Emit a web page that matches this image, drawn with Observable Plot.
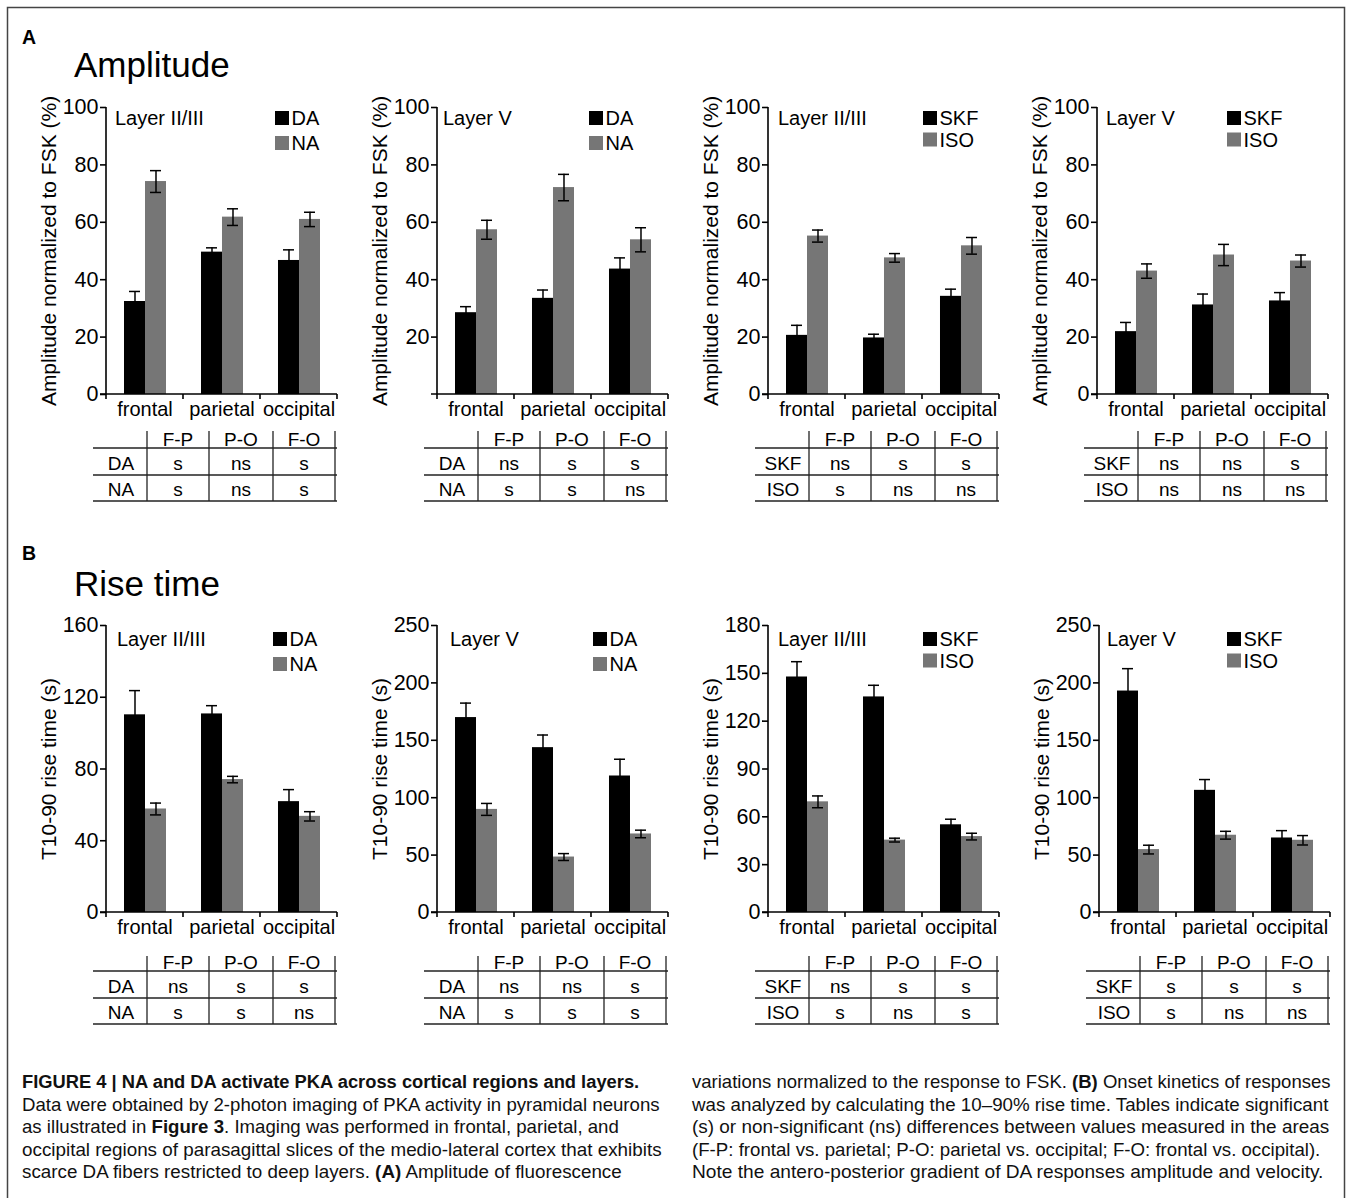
<!DOCTYPE html>
<html>
<head>
<meta charset="utf-8">
<script src="https://cdn.jsdelivr.net/npm/d3@7"></script>
<script src="https://cdn.jsdelivr.net/npm/@observablehq/plot@0.6"></script>
<style>
html,body{margin:0;padding:0;background:#fff;}
#fig{position:relative;width:1349px;height:1198px;overflow:hidden;background:#fff;font-family:"Liberation Sans",Arial,Helvetica,sans-serif;}
.panel{position:absolute;}
#overlay{position:absolute;left:0;top:0;pointer-events:none;}
</style>
</head>
<body>
<div id="fig"></div>
<script>
// ---------------- DATA ----------------
const regions = ["frontal", "parietal", "occipital"];
const comparisons = ["F-P", "P-O", "F-O"];
const agonistsNat = ["DA", "NA"];
const agonistsSel = ["SKF", "ISO"];
const layerNames = ["Layer II/III", "Layer V"];
const ampLabel = "Amplitude normalized to FSK (%)";
const riseLabel = "T10-90 rise time (s)";

// A – amplitude normalized to FSK (%), mean and error
const ampL23_DA = [32.4, 49.6, 46.7];
const ampL23_DA_err = [3.5, 1.5, 3.7];
const ampL23_NA = [74.2, 61.8, 61.0];
const ampL23_NA_err = [3.8, 2.9, 2.5];
const ampL5_DA = [28.5, 33.5, 43.7];
const ampL5_DA_err = [2.1, 2.9, 3.9];
const ampL5_NA = [57.4, 72.1, 53.9];
const ampL5_NA_err = [3.3, 4.6, 4.2];
const ampL23_SKF = [20.6, 19.7, 34.2];
const ampL23_SKF_err = [3.5, 1.3, 2.5];
const ampL23_ISO = [55.2, 47.6, 51.8];
const ampL23_ISO_err = [2.1, 1.5, 2.9];
const ampL5_SKF = [21.9, 31.2, 32.6];
const ampL5_SKF_err = [3.2, 3.8, 2.9];
const ampL5_ISO = [43.0, 48.6, 46.5];
const ampL5_ISO_err = [2.5, 3.7, 2.1];

// B – T10-90 rise time (s), mean and error
const riseL23_DA = [110.2, 110.7, 61.8];
const riseL23_DA_err = [13.5, 4.6, 6.7];
const riseL23_NA = [57.7, 74.1, 53.6];
const riseL23_NA_err = [3.3, 1.8, 2.6];
const riseL5_DA = [169.8, 143.6, 118.9];
const riseL5_DA_err = [12.6, 11.0, 14.6];
const riseL5_NA = [89.8, 48.3, 68.4];
const riseL5_NA_err = [5.2, 3.0, 3.3];
const riseL23_SKF = [147.7, 135.2, 55.0];
const riseL23_SKF_err = [9.6, 7.3, 3.5];
const riseL23_ISO = [69.4, 45.4, 47.6];
const riseL23_ISO_err = [3.7, 1.2, 2.1];
const riseL5_SKF = [192.9, 106.4, 64.9];
const riseL5_SKF_err = [19.5, 9.4, 6.4];
const riseL5_ISO = [54.8, 67.3, 62.9];
const riseL5_ISO_err = [3.8, 3.4, 4.1];

// y tick values
const ampTicks = [0, 20, 40, 60, 80, 100];
const ampTicksNoZero = [20, 40, 60, 80, 100];
const riseTicks160 = [0, 40, 80, 120, 160];
const riseTicks250 = [0, 50, 100, 150, 200, 250];
const riseTicks180 = [0, 30, 60, 90, 120, 150, 180];

// significance tables (F-P, P-O, F-O)
const sigAmpL23_DA = ["s", "ns", "s"];
const sigAmpL23_NA = ["s", "ns", "s"];
const sigAmpL5_DA = ["ns", "s", "s"];
const sigAmpL5_NA = ["s", "s", "ns"];
const sigAmpL23_SKF = ["ns", "s", "s"];
const sigAmpL23_ISO = ["s", "ns", "ns"];
const sigAmpL5_SKF = ["ns", "ns", "s"];
const sigAmpL5_ISO = ["ns", "ns", "ns"];
const sigRiseL23_DA = ["ns", "s", "s"];
const sigRiseL23_NA = ["s", "s", "ns"];
const sigRiseL5_DA = ["ns", "ns", "s"];
const sigRiseL5_NA = ["s", "s", "s"];
const sigRiseL23_SKF = ["ns", "s", "s"];
const sigRiseL23_ISO = ["s", "ns", "s"];
const sigRiseL5_SKF = ["s", "s", "s"];
const sigRiseL5_ISO = ["s", "ns", "ns"];

const panelTitles = {A: "Amplitude", B: "Rise time"};

const captionLeft = [
  [{t: "FIGURE 4 | NA and DA activate PKA across cortical regions and layers.", b: true}],
  [{t: "Data were obtained by 2-photon imaging of PKA activity in pyramidal neurons"}],
  [{t: "as illustrated in "}, {t: "Figure 3", b: true}, {t: ". Imaging was performed in frontal, parietal, and"}],
  [{t: "occipital regions of parasagittal slices of the medio-lateral cortex that exhibits"}],
  [{t: "scarce DA fibers restricted to deep layers. "}, {t: "(A)", b: true}, {t: " Amplitude of fluorescence"}]
];
const captionRight = [
  [{t: "variations normalized to the response to FSK. "}, {t: "(B)", b: true}, {t: " Onset kinetics of responses"}],
  [{t: "was analyzed by calculating the 10–90% rise time. Tables indicate significant"}],
  [{t: "(s) or non-significant (ns) differences between values measured in the areas"}],
  [{t: "(F-P: frontal vs. parietal; P-O: parietal vs. occipital; F-O: frontal vs. occipital)."}],
  [{t: "Note the antero-posterior gradient of DA responses amplitude and velocity."}]
];

// ---------------- PANELS ----------------
const panels = [
  {row: "A", col: 0, layer: layerNames[0], series: agonistsNat, values: [ampL23_DA, ampL23_NA], errors: [ampL23_DA_err, ampL23_NA_err], max: 100, ticks: ampTicks, ylabel: ampLabel, sig: [sigAmpL23_DA, sigAmpL23_NA]},
  {row: "A", col: 1, layer: layerNames[1], series: agonistsNat, values: [ampL5_DA, ampL5_NA], errors: [ampL5_DA_err, ampL5_NA_err], max: 100, ticks: ampTicksNoZero, ylabel: ampLabel, sig: [sigAmpL5_DA, sigAmpL5_NA]},
  {row: "A", col: 2, layer: layerNames[0], series: agonistsSel, values: [ampL23_SKF, ampL23_ISO], errors: [ampL23_SKF_err, ampL23_ISO_err], max: 100, ticks: ampTicks, ylabel: ampLabel, sig: [sigAmpL23_SKF, sigAmpL23_ISO]},
  {row: "A", col: 3, layer: layerNames[1], series: agonistsSel, values: [ampL5_SKF, ampL5_ISO], errors: [ampL5_SKF_err, ampL5_ISO_err], max: 100, ticks: ampTicks, ylabel: ampLabel, sig: [sigAmpL5_SKF, sigAmpL5_ISO]},
  {row: "B", col: 0, layer: layerNames[0], series: agonistsNat, values: [riseL23_DA, riseL23_NA], errors: [riseL23_DA_err, riseL23_NA_err], max: 160, ticks: riseTicks160, ylabel: riseLabel, sig: [sigRiseL23_DA, sigRiseL23_NA]},
  {row: "B", col: 1, layer: layerNames[1], series: agonistsNat, values: [riseL5_DA, riseL5_NA], errors: [riseL5_DA_err, riseL5_NA_err], max: 250, ticks: riseTicks250, ylabel: riseLabel, sig: [sigRiseL5_DA, sigRiseL5_NA]},
  {row: "B", col: 2, layer: layerNames[0], series: agonistsSel, values: [riseL23_SKF, riseL23_ISO], errors: [riseL23_SKF_err, riseL23_ISO_err], max: 180, ticks: riseTicks180, ylabel: riseLabel, sig: [sigRiseL23_SKF, sigRiseL23_ISO]},
  {row: "B", col: 3, layer: layerNames[1], series: agonistsSel, values: [riseL5_SKF, riseL5_ISO], errors: [riseL5_SKF_err, riseL5_ISO_err], max: 250, ticks: riseTicks250, ylabel: riseLabel, sig: [sigRiseL5_SKF, sigRiseL5_ISO]}
];

// ---------------- LAYOUT ----------------
const FONT = "Liberation Sans, Arial, Helvetica, sans-serif";
const BLACK = "#000000", GRAY = "#767676", LINE = "#222";
const rowLayout = {
  A: {yTop: 107, y0: 394, hlines: [448, 475, 501], vTop: 431, titleBase: 125, legTop: 111, letterBase: 44, headBase: 77},
  B: {yTop: 625, y0: 912, hlines: [971, 998, 1024], vTop: 956, titleBase: 646, legTop: 632, letterBase: 560, headBase: 596}
};
const colX0 = {A: [105, 436, 767, 1096], B: [105, 436, 767, 1098]};
const legendDX = {A: [170, 153, 156, 131], B: [168, 157, 156, 129]};
const titleDX = {A: [10, 7, 11, 10], B: [12, 14, 11, 9]};
const bandStep = 77.7;

const fig = d3.select("#fig");

function drawPanel(p) {
  const L = rowLayout[p.row];
  const x0 = colX0[p.row][p.col];
  const ML = 100, MR = 10, MT = 16, MB = 40;
  const plotW = bandStep * regions.length;
  const plotH = L.y0 - L.yTop;
  const W = ML + plotW + MR, H = MT + plotH + MB;
  const data = p.series.flatMap((s, si) => regions.map((r, ri) => ({region: r, series: s, value: p.values[si][ri], err: p.errors[si][ri]})));
  const chart = Plot.plot({
    width: W, height: H,
    marginLeft: ML, marginRight: MR, marginTop: MT, marginBottom: MB,
    style: {fontFamily: FONT, fontSize: "20px", color: "#000", background: "transparent", overflow: "visible"},
    fx: {domain: regions, padding: 0, label: null, axis: "bottom", tickSize: 0, tickPadding: 7},
    x: {domain: p.series, paddingInner: 0, paddingOuter: 0.765, axis: null},
    y: {domain: [0, p.max], ticks: p.ticks, tickSize: 6, tickPadding: 2, label: p.ylabel, labelAnchor: "center", labelOffset: 65, labelArrow: "none"},
    color: {domain: p.series, range: [BLACK, GRAY]},
    marks: [
      Plot.barY(data, {fx: "region", x: "series", y: "value", fill: "series"}),
      Plot.ruleX(data, {fx: "region", x: "series", y1: d => d.value - d.err, y2: d => d.value + d.err, stroke: "#000", strokeWidth: 1.5}),
      Plot.tickY(data, {fx: "region", x: "series", y: d => d.value + d.err, stroke: "#000", strokeWidth: 1.5, insetLeft: 5, insetRight: 5}),
      Plot.tickY(data, {fx: "region", x: "series", y: d => d.value - d.err, stroke: "#000", strokeWidth: 1.5, insetLeft: 5, insetRight: 5})
    ]
  });
  const svg = d3.select(chart);
  svg.selectAll('[aria-label="y-axis tick label"], [aria-label="y-axis tick label"] text').style("font-size", "21.5px");
  svg.selectAll('[aria-label="y-axis label"], [aria-label="y-axis label"] text').style("font-size", "21px");
  svg.selectAll('[aria-label="y-axis tick"]').style("stroke-width", "1.6px");

  // axis lines drawn from the plot's own scales
  const fxS = chart.scale("fx"), yS = chart.scale("y");
  const bw = fxS.bandwidth;
  const xL = fxS.apply(regions[0]);
  const xR = fxS.apply(regions[regions.length - 1]) + bw;
  const yT = yS.apply(p.max), yB = yS.apply(0);
  const g = svg.append("g").attr("stroke", "#000").attr("stroke-width", 1.6).attr("fill", "none");
  g.append("line").attr("x1", xL).attr("x2", xL).attr("y1", yT).attr("y2", yB + 5);
  g.append("line").attr("x1", xL - 6).attr("x2", xR).attr("y1", yB).attr("y2", yB);
  regions.forEach(r => {
    const xb = fxS.apply(r) + bw;
    g.append("line").attr("x1", xb).attr("x2", xb).attr("y1", yB).attr("y2", yB + 5);
  });

  fig.append("div").attr("class", "panel")
    .style("left", (x0 - ML) + "px").style("top", (L.yTop - MT) + "px")
    .node().appendChild(chart);
}

panels.forEach(drawPanel);

// ---------------- OVERLAY (titles, legends, tables, caption) ----------------
const ov = fig.append("svg").attr("id", "overlay").attr("width", 1349).attr("height", 1198)
  .style("font-family", FONT);

ov.append("rect").attr("x", 7.5).attr("y", 7.5).attr("width", 1337).attr("height", 1210)
  .attr("fill", "none").attr("stroke", "#444").attr("stroke-width", 1.5);

Object.keys(rowLayout).forEach(row => {
  const L = rowLayout[row];
  ov.append("text").attr("x", 22).attr("y", L.letterBase).attr("font-size", 19.5).attr("font-weight", "bold").text(row);
  ov.append("text").attr("x", 74).attr("y", L.headBase).attr("font-size", 35).text(panelTitles[row]);
});

panels.forEach(p => {
  const L = rowLayout[p.row];
  const x0 = colX0[p.row][p.col];
  // layer title
  ov.append("text").attr("x", x0 + titleDX[p.row][p.col]).attr("y", L.titleBase).attr("font-size", 20).text(p.layer);
  // legend
  const gap = p.series === agonistsNat ? 25 : 21.5;
  p.series.forEach((s, i) => {
    const lx = x0 + legendDX[p.row][p.col], ly = L.legTop + i * gap;
    ov.append("rect").attr("x", lx).attr("y", ly).attr("width", 14).attr("height", 14).attr("fill", i === 0 ? BLACK : GRAY);
    ov.append("text").attr("x", lx + 16.5).attr("y", ly + 14).attr("font-size", 20).text(s);
  });
  // significance table
  const tl = x0 - 12, tr = x0 + 232;
  const vx = [x0 + 42, x0 + 104, x0 + 168, x0 + 230];
  const tg = ov.append("g");
  L.hlines.forEach(y => tg.append("line").attr("x1", tl).attr("x2", tr).attr("y1", y).attr("y2", y).attr("stroke", LINE).attr("stroke-width", 1.3));
  vx.forEach(x => tg.append("line").attr("x1", x).attr("x2", x).attr("y1", L.vTop).attr("y2", L.hlines[2]).attr("stroke", LINE).attr("stroke-width", 1.3));
  comparisons.forEach((c, ci) => {
    tg.append("text").attr("x", (vx[ci] + vx[ci + 1]) / 2).attr("y", L.hlines[0] - 2)
      .attr("font-size", 19).attr("text-anchor", "middle").text(c);
  });
  p.series.forEach((s, si) => {
    const base = L.hlines[si + 1] - 5;
    tg.append("text").attr("x", (tl + vx[0]) / 2 + 1).attr("y", base).attr("font-size", 19).attr("text-anchor", "middle").text(s);
    p.sig[si].forEach((v, ci) => {
      tg.append("text").attr("x", (vx[ci] + vx[ci + 1]) / 2).attr("y", base).attr("font-size", 19).attr("text-anchor", "middle").text(v);
    });
  });
});

// caption, two columns
const capBase = [1088, 1110.5, 1133, 1155.5, 1178];
const capLeftW = [618, 638, 597, 640, 600];
const capRightW = [639, 637, 638, 629, 632];
function captionColumn(lines, x, widths) {
  lines.forEach((segs, i) => {
    const t = ov.append("text").attr("font-size", 17.5).attr("fill", "#111");
    segs.forEach(s => t.append("tspan").attr("font-weight", s.b ? "bold" : "normal").text(s.t));
    const w = t.node().getComputedTextLength();
    t.attr("transform", `translate(${x},${capBase[i]}) scale(${widths[i] / w},1)`);
  });
}
captionColumn(captionLeft, 22, capLeftW);
captionColumn(captionRight, 692, capRightW);
</script>
</body>
</html>
